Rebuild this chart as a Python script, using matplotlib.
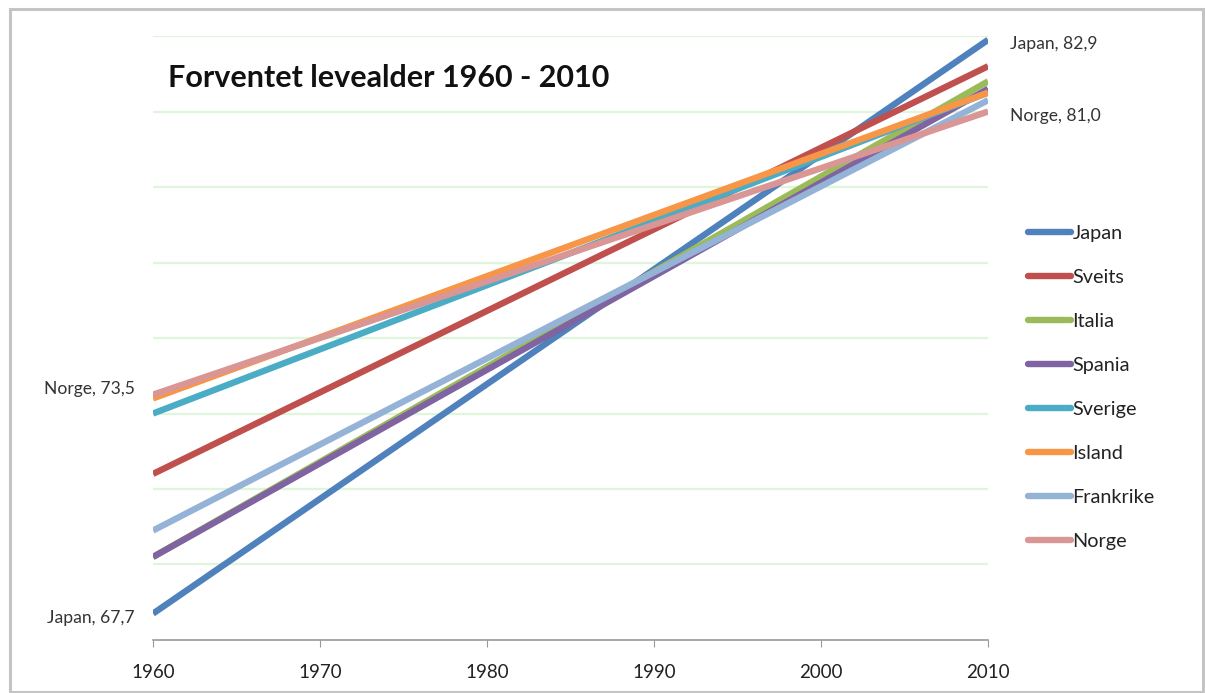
import matplotlib
matplotlib.use("Agg")
import matplotlib.pyplot as plt
from matplotlib.patches import Rectangle

plt.rcParams['font.family'] = ['Lato', 'DejaVu Sans']

years = [1960, 2010]
countries = ["Japan", "Sveits", "Italia", "Spania", "Sverige", "Island", "Frankrike", "Norge"]
japan = [67.7, 82.9]
sveits = [71.4, 82.2]
italia = [69.2, 81.8]
spania = [69.2, 81.6]
sverige = [73.0, 81.5]
island = [73.4, 81.5]
frankrike = [69.9, 81.3]
norge = [73.5, 81.0]
colors = ["#4F81BD", "#C0504D", "#9BBB59", "#8064A2", "#4BACC6", "#F79646", "#95B3D7", "#D99694"]
series = [japan, sveits, italia, spania, sverige, island, frankrike, norge]
xticks = [1960, 1970, 1980, 1990, 2000, 2010]
title = "Forventet levealder 1960 - 2010"

fig = plt.figure(figsize=(12.05, 6.93), dpi=100)
ax = fig.add_axes([0.127, 0.0765, 0.693, 0.8715])

for y in range(69, 84, 2):
    ax.axhline(y, color="#dff5dc", lw=1.6, zorder=0)

for name, vals, c in zip(countries, series, colors):
    ax.plot(years, vals, color=c, lw=4.6, label=name, solid_capstyle="butt")

ax.set_xlim(1960, 2010)
ax.set_ylim(67, 83)
ax.set_yticks([])
ax.set_xticks(xticks)
ax.tick_params(axis="x", length=5, color="#999999", labelsize=13.5, labelcolor="#222222", pad=12)
for s in ["top", "right", "left"]:
    ax.spines[s].set_visible(False)
ax.spines["bottom"].set_color("#999999")
ax.spines["bottom"].set_linewidth(1.2)

# data labels
lab = dict(fontsize=12.6, color="#333333", va="center")
ax.annotate("Japan, %s" % str(japan[1]).replace(".", ","), (years[1], japan[1]),
            xytext=(16, -3), textcoords="offset points", ha="left", **lab)
ax.annotate("Norge, %s" % str(norge[1]).replace(".", ","), (years[1], norge[1]),
            xytext=(16, -3), textcoords="offset points", ha="left", **lab)
ax.annotate("Norge, %s" % str(norge[0]).replace(".", ","), (years[0], norge[0]),
            xytext=(-13, 4), textcoords="offset points", ha="right", **lab)
ax.annotate("Japan, %s" % str(japan[0]).replace(".", ","), (years[0], japan[0]),
            xytext=(-13, -3), textcoords="offset points", ha="right", **lab)

ax.text(0.018, 0.93, title, transform=ax.transAxes, fontsize=22, fontweight="bold",
        color="#111111", va="center", ha="left")

leg = ax.legend(loc="upper left", bbox_to_anchor=(1.038, 0.70), frameon=False,
                fontsize=14.3, handlelength=2.2, handletextpad=0.05, labelspacing=1.36,
                borderaxespad=0)
for h in leg.get_lines():
    h.set_linewidth(4.6)
    h.set_solid_capstyle("round")
for t in leg.get_texts():
    t.set_color("#222222")

fig.patches.append(Rectangle((0.008, 0.002), 0.99, 0.985, transform=fig.transFigure,
                             fill=False, edgecolor="#c4c4c4", lw=2.2))

fig.savefig("out.png", dpi=100)
